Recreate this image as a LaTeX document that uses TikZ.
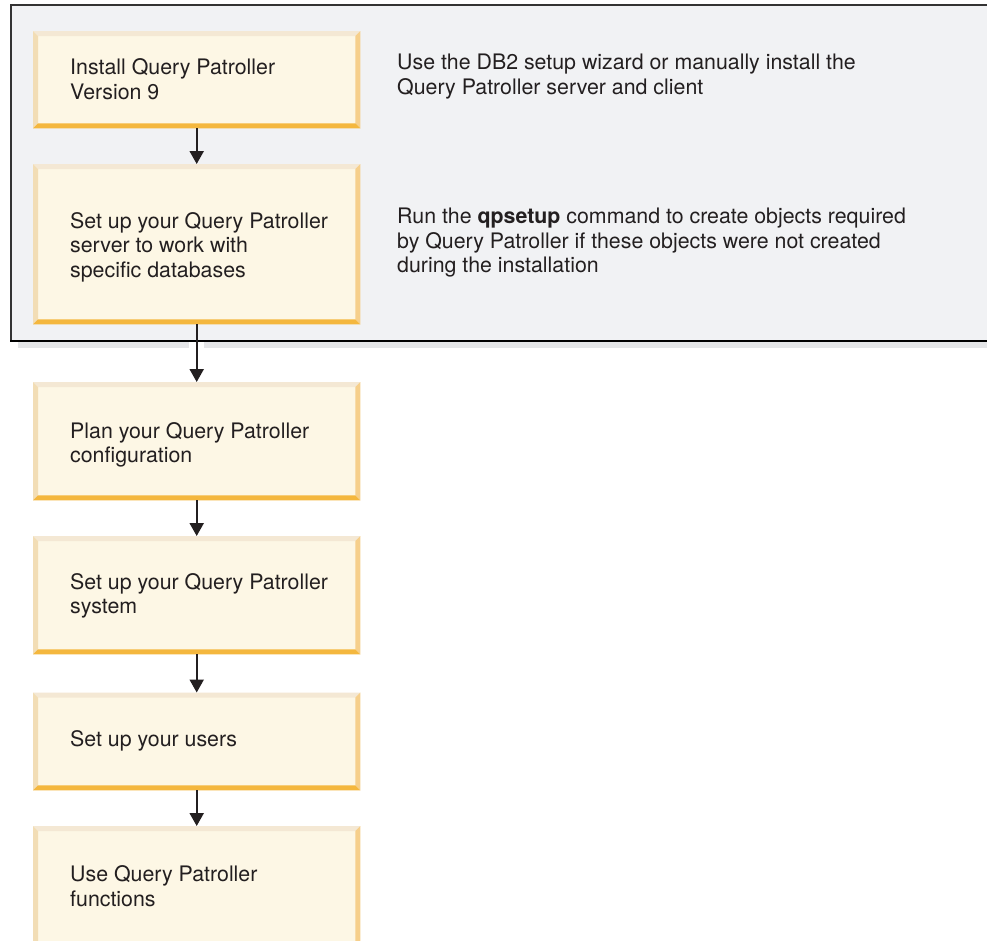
\documentclass[tikz,border=0pt]{standalone}
\usepackage{fontspec}
\setmainfont{TeX Gyre Heros}
\usetikzlibrary{arrows.meta,calc}
\definecolor{panelfill}{HTML}{F1F2F4}
\definecolor{panelborder}{HTML}{333333}
\definecolor{shadowgray}{HTML}{E4E5E7}
\definecolor{cream}{HTML}{FDF7E5}
\definecolor{bvtop}{HTML}{F4E8D4}
\definecolor{bvleft}{HTML}{F2DDB5}
\definecolor{bvright}{HTML}{F6CF8B}
\definecolor{bvbot}{HTML}{F4B73E}
\definecolor{ink}{HTML}{231F20}
\tikzset{
  stepbox/.style={rectangle, fill=cream, inner sep=0pt, minimum width=327pt, anchor=north west},
  steptext/.style={anchor=north west, inner sep=0pt, align=left, font=\fontsize{21.35}{24.5}\selectfont, text=ink},
  flow/.style={draw=ink, line width=2.2pt, -{Triangle[length=13pt,width=14pt]}},
}
\newcommand\bevels[1]{%
  \fill[bvtop] (#1.north west) -- (#1.north east) -- ($(#1.north east)+(-5,-5)$) -- ($(#1.north west)+(5,-5)$) -- cycle;
  \fill[bvleft] (#1.north west) -- ($(#1.north west)+(5,-5)$) -- ($(#1.south west)+(5,5)$) -- (#1.south west) -- cycle;
  \fill[bvright] (#1.north east) -- (#1.south east) -- ($(#1.south east)+(-5,5)$) -- ($(#1.north east)+(-5,-5)$) -- cycle;
  \fill[bvbot] (#1.south west) -- (#1.south east) -- ($(#1.south east)+(-5,5)$) -- ($(#1.south west)+(5,5)$) -- cycle;
}
\begin{document}
\begin{tikzpicture}[x=1pt,y=1pt]
\clip (0,0) rectangle (987,-940);
\fill[white] (0,0) rectangle (987,-940);
% panel
\fill[panelfill] (11,-5) rectangle (1000,-341);
\draw[panelborder, line width=1.8pt] (1000,-5) -- (11,-5) -- (11,-341);
\draw[black, line width=2pt] (10.1,-341) -- (1000,-341);
\fill[shadowgray] (18,-342) rectangle (189,-348);
\fill[shadowgray] (204,-342) rectangle (1000,-348);
% boxes
\node[stepbox, minimum height=97pt] (b1) at (33,-31) {};
\node[stepbox, minimum height=160pt] (b2) at (33,-164) {};
\node[stepbox, minimum height=118pt] (b3) at (33,-382) {};
\node[stepbox, minimum height=118pt] (b4) at (33,-536) {};
\node[stepbox, minimum height=97.5pt] (b5) at (33,-692.5) {};
\node[stepbox, minimum height=130pt] (b6) at (33,-826) {};
\bevels{b1}\bevels{b2}\bevels{b3}\bevels{b4}\bevels{b5}\bevels{b6}
% texts
\node[steptext] (t1) at (70,-58.5) {Install Query Patroller\\Version 9};
\node[steptext] (t2) at (70,-212) {Set up your Query Patroller\\server to work with\\specific databases};
\node[steptext] (t3) at (70,-422) {Plan your Query Patroller\\configuration};
\node[steptext] (t4) at (70,-573) {Set up your Query Patroller\\system};
\node[steptext] (t5) at (70,-730.5) {Set up your users};
\node[steptext] (t6) at (70,-865.5) {Use Query Patroller\\functions};
\node[steptext] (d1) at (397,-54.2) {Use the DB2 setup wizard or manually install the\\Query Patroller server and client};
\node[steptext] (d2) at (397,-208) {Run the \textbf{qpsetup} command to create objects required\\by Query Patroller if these objects were not created\\during the installation};
% connectors
\draw[flow] (b1.south) -- (b2.north);
\draw[flow] (b2.south) -- (b3.north);
\draw[flow] (b3.south) -- (b4.north);
\draw[flow] (b4.south) -- (b5.north);
\draw[flow] (b5.south) -- (b6.north);
\end{tikzpicture}
\end{document}
